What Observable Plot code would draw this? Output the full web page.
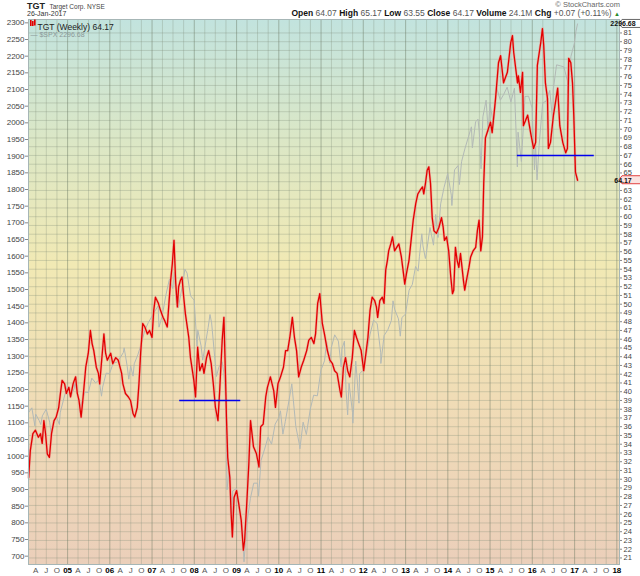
<!DOCTYPE html>
<html><head><meta charset="utf-8">
<script src="https://cdn.jsdelivr.net/npm/d3@7"></script>
<script src="https://cdn.jsdelivr.net/npm/@observablehq/plot@0.6"></script>
<style>
body{margin:0;background:#fff;font-family:"Liberation Sans",Arial,sans-serif;}
#wrap{width:640px;}
#hdr{position:relative;height:18px;width:640px;color:#333;overflow:hidden;}
#hdr div{position:absolute;white-space:nowrap;}
.v{color:#555;font-weight:normal;}
b{color:#111;}
</style></head><body>
<div id="wrap">
<div id="hdr">
  <div style="left:27px;top:-1px;height:10px;line-height:10px;"><span style="font-weight:bold;font-size:9px;color:#222;">TGT</span> <span style="font-size:6.5px;color:#444;">Target Corp. NYSE</span></div>
  <div style="left:27px;top:10px;height:8px;line-height:8px;font-size:7px;color:#333;">26-Jan-2017</div>
  <div style="right:20px;top:0px;height:9px;line-height:9px;font-size:7.5px;color:#666;">© StockCharts.com</div>
  <div style="right:20px;top:9px;height:9px;line-height:9px;font-size:8.5px;"><b>Open</b> <span class="v">64.07</span> <b>High</b> <span class="v">65.17</span> <b>Low</b> <span class="v">63.55</span> <b>Close</b> <span class="v">64.17</span> <b>Volume</b> <span class="v">24.1M</span> <b>Chg</b> <span class="v">+0.07 (+0.11%)</span> <span style="color:#2a8a2a;font-size:6px;">▲</span></div>
</div>
<div id="chart"></div>
</div>
<script>
// ---- TGT weekly (decimal year, price in $) ----
const tgtYears = [2004.08,2004.12,2004.18,2004.24,2004.31,2004.36,2004.40,2004.44,2004.48,2004.52,2004.57,2004.62,2004.68,2004.73,2004.79,2004.83,2004.87,2004.93,2004.97,
2005.03,2005.07,2005.13,2005.19,2005.23,2005.27,2005.32,2005.36,2005.43,2005.49,2005.54,2005.58,2005.62,2005.68,2005.73,2005.76,2005.80,2005.86,2005.90,2005.94,
2006.02,2006.07,2006.14,2006.20,2006.28,2006.31,2006.37,2006.44,2006.49,2006.55,2006.59,2006.65,2006.69,2006.73,2006.78,2006.83,2006.89,2006.94,
2007.00,2007.04,2007.08,2007.15,2007.20,2007.26,2007.30,2007.36,2007.40,2007.44,2007.48,2007.52,2007.56,2007.60,2007.63,2007.67,2007.71,2007.75,2007.79,2007.87,2007.91,2007.99,
2008.03,2008.08,2008.13,2008.19,2008.23,2008.29,2008.34,2008.40,2008.45,2008.50,2008.56,2008.60,2008.66,2008.70,2008.74,2008.76,2008.79,2008.84,2008.87,2008.90,2008.94,
2009.00,2009.05,2009.11,2009.16,2009.19,2009.24,2009.29,2009.33,2009.40,2009.47,2009.53,2009.57,2009.63,2009.69,2009.73,2009.80,2009.88,2009.92,2009.98,
2010.04,2010.11,2010.16,2010.21,2010.26,2010.32,2010.37,2010.42,2010.47,2010.53,2010.59,2010.66,2010.71,2010.77,2010.83,2010.87,2010.92,2010.97,
2011.03,2011.08,2011.15,2011.21,2011.27,2011.32,2011.38,2011.45,2011.48,2011.53,2011.58,2011.63,2011.68,2011.74,2011.79,2011.84,2011.89,2011.95,
2012.01,2012.05,2012.11,2012.16,2012.21,2012.27,2012.31,2012.34,2012.39,2012.45,2012.49,2012.53,2012.57,2012.60,2012.65,2012.69,2012.74,2012.79,2012.84,2012.90,2012.95,2012.98,
2013.02,2013.08,2013.13,2013.18,2013.24,2013.29,2013.34,2013.40,2013.43,2013.47,2013.51,2013.55,2013.59,2013.63,2013.67,2013.73,2013.79,2013.85,2013.89,2013.92,2013.97,
2014.02,2014.07,2014.11,2014.14,2014.18,2014.22,2014.26,2014.30,2014.37,2014.40,2014.44,2014.50,2014.54,2014.60,2014.66,2014.70,2014.74,2014.78,2014.82,2014.85,2014.89,
2015.01,2015.05,2015.13,2015.20,2015.25,2015.32,2015.41,2015.49,2015.53,2015.56,2015.65,2015.67,2015.72,2015.77,2015.79,2015.89,2015.96,
2016.03,2016.08,2016.12,2016.20,2016.24,2016.27,2016.31,2016.36,2016.38,2016.43,2016.50,2016.60,2016.65,2016.72,2016.79,2016.83,2016.86,2016.91,2016.95,2016.98,
2017.02,2017.07];
const tgtClose = [30.2,33.3,35.2,35.6,34.8,35.2,34.1,36.7,35.2,32.9,32.5,35.2,36.7,37.1,38.2,39.8,41.3,40.9,39.8,
40.5,39.4,40.9,41.7,39.8,39.0,37.1,39.0,42.8,44.4,47.0,45.5,44.7,42.8,42.1,40.9,43.2,46.6,44.4,43.6,
44.4,43.2,43.9,43.6,42.1,40.9,39.8,39.4,39.0,37.5,37.1,38.2,40.9,44.4,47.8,47.4,46.6,47.0,
46.2,49.3,50.8,50.1,49.3,48.5,48.1,47.4,50.1,52.7,54.6,57.3,52.5,49.7,52.0,52.7,53.1,50.8,48.9,46.2,43.9,41.3,
39.4,45.1,42.4,43.2,42.1,43.9,44.7,43.2,40.9,38.2,36.7,40.1,45.9,48.5,41.3,37.1,32.5,30.2,26.1,23.4,27.9,
28.7,27.2,25.3,21.9,23.0,27.2,31.8,36.7,33.7,32.9,31.4,36.0,36.3,39.4,40.5,41.7,40.1,38.2,40.9,
41.7,42.8,44.7,44.7,46.2,48.5,46.2,44.7,41.7,42.8,43.6,44.7,45.9,46.2,45.5,46.6,50.1,51.2,
47.8,46.6,44.7,43.6,43.2,42.4,42.1,40.1,39.4,42.8,43.9,42.4,41.7,43.9,47.0,46.2,45.5,44.7,
42.4,43.9,46.2,49.3,50.8,50.4,49.7,48.5,50.4,50.8,50.1,53.9,55.0,56.1,56.9,57.7,56.1,56.5,56.9,55.4,53.5,52.3,
53.5,55.0,57.3,59.6,61.5,62.6,63.0,63.4,62.6,63.8,65.3,65.7,63.8,59.9,58.4,58.1,58.8,59.9,58.8,57.3,57.7,
56.1,53.1,51.2,51.6,56.5,55.0,54.2,55.8,52.7,51.6,52.7,54.2,55.4,56.1,56.5,58.4,59.6,56.1,57.7,63.8,69.0,
70.8,69.6,73.5,77.6,78.4,75.3,76.5,79.9,80.7,78.8,75.3,76.1,74.2,76.5,70.4,71.6,69.6,
67.8,68.5,77.3,79.9,81.5,79.6,75.3,73.5,67.8,68.5,71.6,74.7,70.4,68.5,67.3,67.8,78.1,77.6,75.3,71.6,
65.1,64.17];

// ---- $SPX ----
const spxDates = ["2004-01-30","2004-02-27","2004-03-24","2004-03-31","2004-04-30","2004-05-14","2004-05-28","2004-06-30","2004-07-30","2004-08-13","2004-08-31","2004-09-30","2004-10-22","2004-10-29","2004-11-30","2004-12-31",
"2005-01-31","2005-02-28","2005-03-04","2005-03-31","2005-04-22","2005-04-29","2005-05-31","2005-06-30","2005-07-29","2005-08-31","2005-09-30","2005-10-21","2005-10-31","2005-11-30","2005-12-30",
"2006-01-31","2006-02-28","2006-03-31","2006-04-28","2006-05-05","2006-05-31","2006-06-14","2006-06-30","2006-07-21","2006-07-31","2006-08-31","2006-09-29","2006-10-31","2006-11-30","2006-12-29",
"2007-01-31","2007-02-23","2007-03-02","2007-03-30","2007-04-30","2007-05-31","2007-06-29","2007-07-13","2007-07-31","2007-08-17","2007-08-31","2007-09-28","2007-10-12","2007-10-31","2007-11-30","2007-12-31",
"2008-01-25","2008-01-31","2008-02-29","2008-03-14","2008-03-31","2008-04-30","2008-05-16","2008-05-30","2008-06-30","2008-07-11","2008-07-31","2008-08-29","2008-09-12","2008-09-30","2008-10-10","2008-10-31","2008-11-21","2008-11-28","2008-12-31",
"2009-01-30","2009-02-27","2009-03-06","2009-03-31","2009-04-30","2009-05-29","2009-06-30","2009-07-10","2009-07-31","2009-08-31","2009-09-30","2009-10-30","2009-11-30","2009-12-31",
"2010-01-15","2010-02-05","2010-02-26","2010-03-31","2010-04-23","2010-05-28","2010-06-30","2010-07-02","2010-07-30","2010-08-27","2010-09-30","2010-10-29","2010-11-30","2010-12-31",
"2011-01-31","2011-02-18","2011-03-18","2011-03-31","2011-04-29","2011-05-31","2011-06-24","2011-06-30","2011-07-22","2011-08-05","2011-08-19","2011-08-31","2011-09-30","2011-10-03","2011-10-28","2011-11-25","2011-11-30","2011-12-30",
"2012-01-31","2012-02-29","2012-03-30","2012-04-30","2012-05-31","2012-06-01","2012-06-29","2012-07-31","2012-08-31","2012-09-14","2012-09-28","2012-10-31","2012-11-16","2012-11-30","2012-12-31",
"2013-01-31","2013-02-28","2013-03-28","2013-04-19","2013-04-30","2013-05-21","2013-05-31","2013-06-21","2013-06-28","2013-07-31","2013-08-30","2013-09-18","2013-09-30","2013-10-08","2013-10-31","2013-11-29","2013-12-31",
"2014-01-31","2014-02-05","2014-02-28","2014-03-31","2014-04-11","2014-04-30","2014-05-30","2014-06-30","2014-07-24","2014-08-01","2014-08-29","2014-09-19","2014-09-30","2014-10-15","2014-10-31","2014-11-28","2014-12-16","2014-12-31",
"2015-01-30","2015-02-27","2015-03-31","2015-04-30","2015-05-29","2015-06-30","2015-07-31","2015-08-25","2015-08-31","2015-09-29","2015-10-30","2015-11-30","2015-12-31",
"2016-01-20","2016-01-29","2016-02-11","2016-02-29","2016-03-31","2016-04-29","2016-05-31","2016-06-27","2016-06-30","2016-07-29","2016-08-31","2016-09-30","2016-10-31","2016-11-04","2016-11-30","2016-12-30",
"2017-01-13","2017-01-26"];
const spxClose = [1131,1145,1091,1126,1107,1095,1121,1141,1102,1064,1104,1115,1095,1130,1174,1212,
1181,1204,1222,1181,1152,1157,1192,1191,1234,1220,1229,1180,1207,1249,1248,
1280,1281,1295,1311,1325,1270,1231,1270,1240,1277,1304,1336,1378,1401,1418,
1438,1451,1387,1421,1482,1531,1503,1552,1455,1445,1474,1527,1561,1549,1481,1468,
1330,1379,1331,1288,1323,1386,1425,1400,1280,1239,1267,1283,1252,1166,899,969,800,896,903,
826,735,683,798,873,919,919,880,987,1021,1057,1036,1096,1115,
1136,1066,1104,1169,1217,1089,1031,1022,1102,1065,1141,1183,1181,1258,
1286,1343,1279,1326,1364,1345,1268,1321,1345,1199,1124,1219,1131,1099,1285,1159,1247,1258,
1312,1366,1408,1398,1310,1278,1362,1379,1407,1466,1441,1412,1360,1416,1426,
1498,1515,1569,1555,1598,1667,1631,1593,1606,1686,1633,1725,1682,1656,1757,1806,1848,
1783,1752,1859,1872,1815,1884,1924,1960,1988,1925,2003,2011,1972,1862,2018,2068,1973,2059,
1995,2105,2068,2086,2107,2063,2104,1868,1972,1884,2079,2080,2044,
1859,1940,1829,1932,2060,2065,2097,2001,2099,2174,2171,2168,2126,2085,2199,2239,
2275,2296.68];

// ---- axis ticks & annotations ----
const spxTicks = d3.range(700, 2301, 50);
const tgtTicks = d3.range(21, 82, 1);
const hLevels = [39, 67];
const hStart = ["2007-08-28", "2015-08-25"];
const hEnd = ["2009-02-06", "2017-06-20"];
const lastTGT = 64.17, lastSPX = 2296.68;

// dual axis alignment: TGT price -> $SPX scale units
const toLeft = t => 694.6 + 26.25 * (t - 21);
const fromLeft = v => (v - 694.6) / 26.25 + 21;
function decYear(t) {
  const y = Math.floor(t);
  const a = Date.UTC(y, 0, 1), b = Date.UTC(y + 1, 0, 1);
  return new Date(a + (t - y) * (b - a));
}
const tgt = tgtYears.map((t, i) => ({date: decYear(t), v: toLeft(tgtClose[i])}));
const spx = spxDates.map((d, i) => ({date: new Date(d), v: spxClose[i]}));
const quarters = d3.utcMonth.every(3).range(new Date(Date.UTC(2004, 3, 1)), new Date(Date.UTC(2018, 0, 2)));
const yearTicks = quarters.filter(d => d.getUTCMonth() === 0);
const qTicks = quarters.filter(d => d.getUTCMonth() !== 0);
const qLabel = {3: "A", 6: "J", 9: "O"};

const chart = Plot.plot({
  width: 640, height: 558,
  marginTop: 1, marginBottom: 12, marginLeft: 28, marginRight: 21,
  x: {type: "utc", domain: [new Date("2004-01-29"), new Date("2018-01-24")]},
  y: {domain: [675, 2310]},
  style: {fontFamily: "'Liberation Sans', Arial, sans-serif", fontSize: "8px", color: "#444", background: "transparent", overflow: "visible"},
  marks: [
    Plot.frame({fill: "url(#bgGrad)"}),
    Plot.gridY(tgtTicks.map(toLeft), {stroke: "#7d8c78", strokeOpacity: 0.3}),
    Plot.gridX(qTicks, {stroke: "#7d8c78", strokeOpacity: 0.3}),
    Plot.gridX(yearTicks, {stroke: "#66745e", strokeOpacity: 0.45}),
    Plot.line(spx, {x: "date", y: "v", stroke: "#b2b9b6", strokeWidth: 1}),
    Plot.line(tgt, {x: "date", y: "v", stroke: "#eba196", strokeWidth: 2.6, strokeOpacity: 0.7}),
    Plot.line(tgt, {x: "date", y: "v", stroke: "#e30000", strokeWidth: 1.3}),
    Plot.ruleY(hLevels, {y: d => toLeft(d), x1: (d, i) => new Date(hStart[i]), x2: (d, i) => new Date(hEnd[i]), stroke: "#0000ee", strokeWidth: 1.4}),
    Plot.axisY(spxTicks, {anchor: "left", tickSize: 3, tickPadding: 1, label: null, tickFormat: d => String(d), fill: "#444", stroke: "#888"}),
    Plot.axisY(tgtTicks.filter(t => t !== 64).map(toLeft), {anchor: "right", tickSize: 2, tickPadding: 2, label: null, tickFormat: d => String(Math.round(fromLeft(d))), fill: "#444", stroke: "#888", fontSize: 7.5}),
    Plot.axisX(qTicks, {anchor: "bottom", tickSize: 0, tickPadding: 3, label: null, tickFormat: d => qLabel[d.getUTCMonth()], fill: "#555"}),
    Plot.axisX(yearTicks, {anchor: "bottom", tickSize: 0, tickPadding: 3, label: null, tickFormat: d => d3.utcFormat("%y")(d), fill: "#000", fontWeight: "bold"}),
    Plot.text(["TGT (Weekly) 64.17"], {frameAnchor: "top-left", dx: 9, dy: 4, textAnchor: "start", fontSize: 8.5, fill: "#222"}),
    Plot.text(["— $SPX 2296.68"], {frameAnchor: "top-left", dx: 2, dy: 12.5, textAnchor: "start", fontSize: 7, fill: "#8a9898"}),
    Plot.frame({stroke: "#a6b6b6"})
  ]
});

const svg = d3.select(chart);
const defs = svg.insert("defs", ":first-child");
const g = defs.append("linearGradient").attr("id", "bgGrad").attr("x1", 0).attr("y1", 0).attr("x2", 0).attr("y2", 1);
[[0, "#c2e3de"], [0.22, "#dbe7c6"], [0.45, "#f1e9b4"], [0.7, "#f0dcb6"], [1, "#ebcfba"]].forEach(([o, c]) =>
  g.append("stop").attr("offset", o).attr("stop-color", c));

// legend glyph (red bar icon)
const yS = chart.scale("y");
const icon = svg.append("g");
[[30,2,6],[32,3,5],[34,1.5,6]].forEach(([x, y0, h]) => icon.append("rect").attr("x", x).attr("y", y0).attr("width", 1.6).attr("height", h).attr("fill", "#e30000"));

// last value boxes on right axis
function box(v, txt, stroke, fill) {
  const y = yS.apply(v);
  const gg = svg.append("g");
  gg.append("path").attr("d", `M619,${y} L622,${y-4} L641,${y-4} L641,${y+4} L622,${y+4} Z`).attr("fill", fill).attr("stroke", stroke).attr("stroke-width", 1);
  gg.append("text").attr("x", 623).attr("y", y + 0.5).attr("dy", "0.35em").attr("font-size", 7).attr("font-weight", "bold").attr("fill", "#111").attr("font-family", "'Liberation Sans', Arial, sans-serif").text(txt);
}
box(lastSPX, "2296.68", "#666", "#fff");
box(toLeft(lastTGT), "64.17", "#e04040", "#fbe3e0");

document.getElementById("chart").appendChild(chart);
</script>
</body></html>
